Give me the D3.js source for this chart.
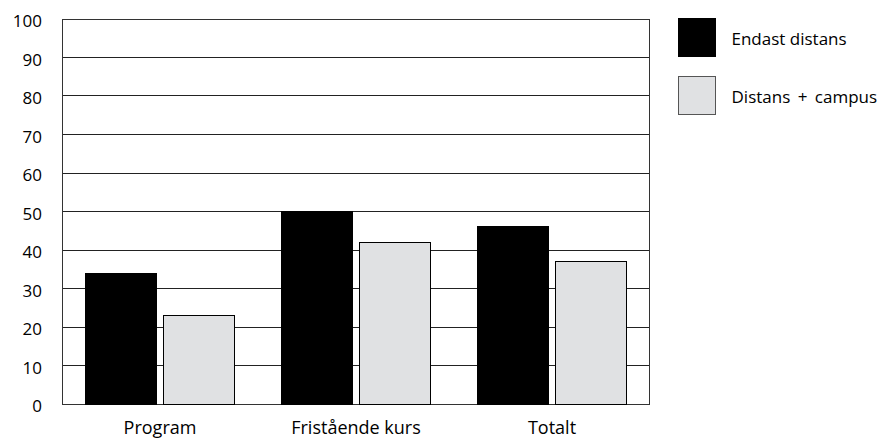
<!DOCTYPE html>
<html><head><meta charset="utf-8">
<script src="https://cdn.jsdelivr.net/npm/d3@7"></script>
<style>body{margin:0;background:#fff;} text{font-family:"Open Sans",Lato,sans-serif;fill:#000;}</style>
</head><body>
<svg id="c" width="886" height="440"></svg>
<script>
const categories = ["Program", "Fristående kurs", "Totalt"];
const seriesNames = ["Endast distans", "Distans + campus"];
const endastDistans = [34, 50, 46];
const distansCampus = [23, 42, 37];
const yTicks = [0,10,20,30,40,50,60,70,80,90,100];
const colors = ["#000000", "#e0e1e3"];

const svg = d3.select("#c");
const L = 62, R = 650, T = 18.5, B = 403.5;
const x0 = d3.scaleBand().domain(categories).range([L, R]).paddingInner(0).paddingOuter(0);
const x1 = d3.scaleBand().domain(seriesNames).range([23, 172]).paddingInner(0.0897);
const y = d3.scaleLinear().domain([0, 100]).range([B, T]);

// grid
svg.append("g").selectAll("line").data(yTicks).join("line")
  .attr("x1", L).attr("x2", R)
  .attr("y1", d => Math.round(y(d)) + 0.5).attr("y2", d => Math.round(y(d)) + 0.5)
  .attr("stroke", "#222").attr("stroke-width", 1);

// frame
svg.append("rect").attr("x", L + 0.5).attr("y", Math.round(T) + 0.5)
  .attr("width", R - L - 1).attr("height", Math.round(B) - Math.round(T))
  .attr("fill", "none").attr("stroke", "#333").attr("stroke-width", 1);

const data = categories.map((c, i) => ({cat: c, vals: [endastDistans[i], distansCampus[i]]}));
svg.append("g").selectAll("g").data(data).join("g")
  .attr("transform", d => `translate(${x0(d.cat)},0)`)
  .selectAll("rect").data(d => d.vals.map((v, j) => ({v, s: seriesNames[j], j})))
  .join("rect")
  .attr("x", d => Math.round(x1(d.s)) + 0.5)
  .attr("width", Math.round(x1.bandwidth()))
  .attr("y", d => Math.round(y(d.v)) + 0.5)
  .attr("height", d => Math.round(y(0)) - Math.round(y(d.v)))
  .attr("fill", d => colors[d.j]).attr("stroke", "#000").attr("stroke-width", 1);

// y axis labels
svg.append("g").selectAll("text").data(yTicks).join("text")
  .attr("x", 42).attr("y", d => y(d) + 3).attr("dy", "0.35em")
  .attr("text-anchor", "end").attr("font-size", 17).text(d => d);

// x labels
svg.append("g").selectAll("text").data(categories).join("text")
  .attr("x", d => x0(d) + x0.bandwidth() / 2).attr("y", 428).attr("dy", "0.35em")
  .attr("text-anchor", "middle").attr("font-size", 18).text(d => d);

// legend
const lg = svg.append("g").selectAll("g").data(seriesNames).join("g")
  .attr("transform", (d, i) => `translate(678.5,${18.5 + i * 58})`);
lg.append("rect").attr("width", 37).attr("height", 38)
  .attr("fill", (d, i) => colors[i]).attr("stroke", (d,i)=> i ? "#555" : "#000");
lg.append("text").attr("x", 53).attr("y", 21).attr("dy", "0.35em")
  .attr("font-size", 17).attr("word-spacing", (d,i) => i ? 3 : 0).text(d => d);
</script>
</body></html>
